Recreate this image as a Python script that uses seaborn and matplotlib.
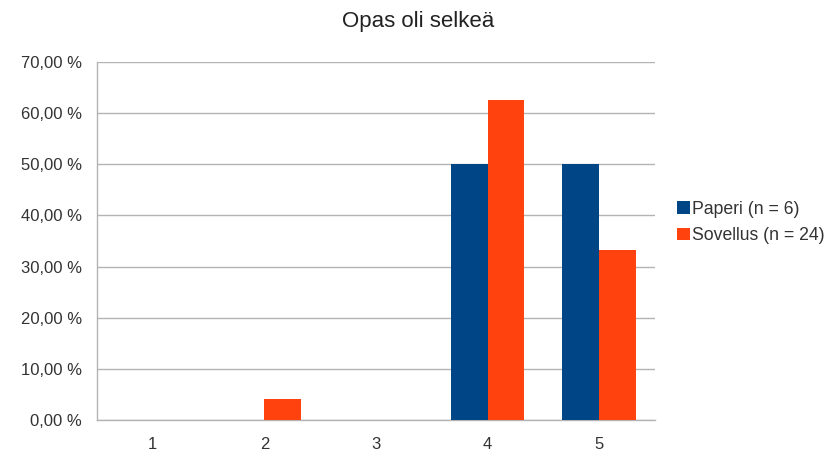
import matplotlib
matplotlib.use("Agg")
import matplotlib.pyplot as plt
import seaborn as sns
import pandas as pd
from matplotlib.patches import Patch
from matplotlib.ticker import FuncFormatter, MultipleLocator

categories = ["1", "2", "3", "4", "5"]
paperi = [0.0, 0.0, 0.0, 50.0, 50.0]
sovellus = [0.0, 4.17, 0.0, 62.5, 33.33]
series_names = ["Paperi (n = 6)", "Sovellus (n = 24)"]
colors = ["#004586", "#ff420e"]

df = pd.DataFrame({
    "Vastaus": categories * 2,
    "Osuus": paperi + sovellus,
    "Ryhmä": [series_names[0]] * len(categories) + [series_names[1]] * len(categories),
})

sns.set_theme(style="white")
plt.rcParams["font.family"] = ["Liberation Sans", "DejaVu Sans"]

fig = plt.figure(figsize=(8.36, 4.54), dpi=100)
ax = fig.add_axes([0.116, 0.0749, 0.6675, 0.7885])

sns.barplot(data=df, x="Vastaus", y="Osuus", hue="Ryhmä", order=categories,
            hue_order=series_names, palette=colors, width=0.66,
            saturation=1, ax=ax, legend=False, zorder=3)
for p in ax.patches:
    p.set_edgecolor("none")

ax.set_xlim(-0.5, len(categories) - 0.5)
ax.set_ylim(0, 70)
ax.yaxis.set_major_locator(MultipleLocator(10))
ax.yaxis.set_major_formatter(FuncFormatter(lambda v, _: f"{v:.2f}".replace(".", ",") + " %"))
ax.grid(axis="y", color="#b3b3b3", linewidth=1, zorder=0)
ax.set_axisbelow(True)

for side in ["top", "right"]:
    ax.spines[side].set_visible(False)
for side in ["left", "bottom"]:
    ax.spines[side].set_color("#b3b3b3")
    ax.spines[side].set_linewidth(1)

# x ticks sit on the category boundaries, labels stay centred
ax.set_xticks([i - 0.5 for i in range(len(categories) + 1)], minor=False)
ax.set_xticklabels([])
ax.set_xticks(range(len(categories)), minor=True)
ax.set_xticklabels(categories, minor=True)
ax.tick_params(axis="x", which="major", length=6, color="#b3b3b3", width=1, direction="out")
ax.tick_params(axis="x", which="minor", length=0, labelsize=12, labelcolor="#333333", pad=12)
ax.tick_params(axis="y", length=6, color="#b3b3b3", width=1, direction="out",
               labelsize=12, labelcolor="#333333", pad=5)
ax.set_xlabel("")
ax.set_ylabel("")

fig.text(0.5, 1 - 27 / 454, "Opas oli selkeä", ha="center", va="baseline",
         fontsize=16, color="#222222")

handles = [Patch(facecolor=c, edgecolor="none") for c in colors]
fig.legend(handles, series_names, loc="center left", bbox_to_anchor=(0.81, 0.51),
           frameon=False, fontsize=12.7, handlelength=0.7, handleheight=0.7,
           handletextpad=0.15, labelspacing=0.55, labelcolor="#333333",
           borderaxespad=0, borderpad=0)

fig.savefig("out.png", dpi=100)
